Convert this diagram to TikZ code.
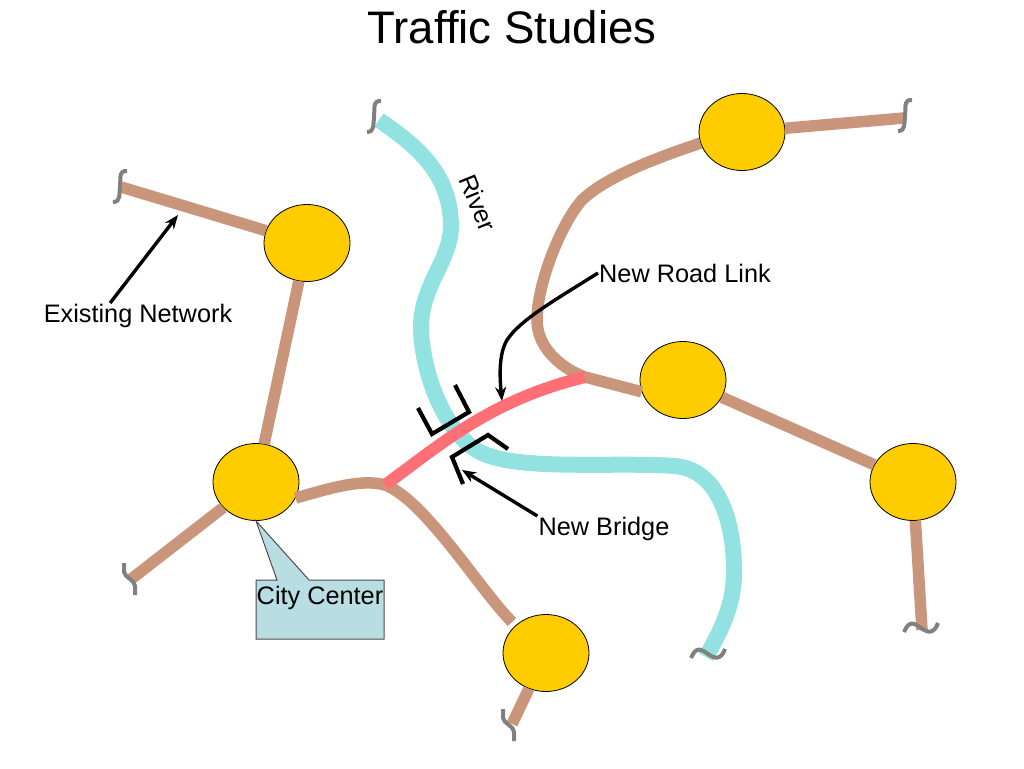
\documentclass[tikz,border=0pt]{standalone}
\usepackage{fontspec}
\setmainfont{Liberation Sans}
\usetikzlibrary{shapes.geometric,arrows.meta}
\definecolor{roadcol}{HTML}{C9967C}
\definecolor{rivercol}{HTML}{92E2E2}
\definecolor{linkcol}{HTML}{FF7076}
\definecolor{citycol}{HTML}{FFCC00}
\definecolor{notecol}{HTML}{B8DEE4}
\tikzset{
  city/.style={draw=black,line width=0.8pt,fill=citycol,ellipse,minimum width=86pt,minimum height=77pt,inner sep=0pt},
  road/.style={roadcol,line width=11.5pt},
  river/.style={rivercol,line width=16pt},
  newlink/.style={linkcol,line width=12pt},
  breakmark/.style={gray,line width=4pt},
  bracket/.style={black,line width=4.2pt,line join=miter},
  pointer/.style={black,line width=3.4pt,-{Stealth[length=14pt,width=11pt]}},
  label/.style={font=\fontsize{25.3}{28}\selectfont,inner sep=1pt}
}
% three kinds of road end
\newcommand{\breakS}[2]{%
  \draw[breakmark,shift={(#1,#2)}] (6,-16) .. controls (-3,-17) and (0,-6) .. (-1,0)
    .. controls (-2,7) and (0,15) .. (-8,15);}
\newcommand{\breakZ}[2]{%
  \draw[breakmark,shift={(#1,#2)}] (-6,-16) -- (-6,-7) .. controls (-5,-1) and (5,1) .. (5,7) -- (5,16);}
\newcommand{\breakT}[2]{%
  \draw[breakmark,shift={(#1,#2)}] (-17,5) .. controls (-12,-7) and (-7,-4) .. (0,1)
    .. controls (7,6) and (13,7) .. (17,-4);}
\begin{document}
\begin{tikzpicture}[x=1pt,y=-1pt]
  \useasboundingbox (0,0) rectangle (1024,768);
  % river
  \draw[river] (379,120) .. controls (420,148) and (450,175) .. (451,225)
    .. controls (451,262) and (420,285) .. (421,330)
    .. controls (423,380) and (450,445) .. (490,456)
    .. controls (530,470) and (620,462) .. (675,466)
    .. controls (722,470) and (735,530) .. (734,575)
    .. controls (733,610) and (718,635) .. (706,657);
  % towns
  \node[city] (cityA) at (307,243) {};
  \node[city] (cityB) at (256,482) {};
  \node[city] (cityC) at (742,132) {};
  \node[city] (cityD) at (683,380) {};
  \node[city] (cityE) at (913,482) {};
  \node[city] (cityF) at (546,653) {};
  \coordinate (endA) at (121,187);
  \coordinate (endB) at (130,580);
  \coordinate (endC) at (904,118);
  \coordinate (endE) at (922,630);
  \coordinate (endF) at (512,724);
  \coordinate (westjoin) at (385,485);
  \coordinate (eastjoin) at (585,377);
  % roads
  \draw[road] (endA) -- (cityA);
  \draw[road] (cityA) -- (cityB);
  \draw[road] (endB) -- (cityB);
  \draw[road] (cityC) -- (endC);
  \draw[road] (cityD) -- (cityE);
  \draw[road] (cityE) -- (endE);
  \draw[road] (cityF) -- (endF);
  \draw[road] (cityB.-22) .. controls (325,490) and (360,478) .. (westjoin)
    .. controls (425,500) and (480,590) .. (512,622);
  \draw[road] (cityC.195) .. controls (650,160) and (605,178) .. (582,200)
    .. controls (560,225) and (537,285) .. (537,320)
    .. controls (537,350) and (565,370) .. (eastjoin);
  \draw[road] (eastjoin) -- (cityD.196);
  \draw[newlink] (westjoin) .. controls (440,445) and (490,400) .. (eastjoin);
  % breaks
  \breakS{121}{187}
  \breakS{375}{117}
  \breakS{906}{116}
  \breakZ{130}{579}
  \breakZ{509}{725}
  \breakT{708}{653}
  \breakT{921}{627}
  % bridge
  \draw[bracket] (418,408) -- (432,434) -- (469,412) -- (455,385);
  \draw[bracket] (508,449) -- (488,435) -- (452,457) -- (463,484);
  % callout
  \coordinate (notetip) at (cityB.south);
  \draw[draw=black!70,line width=1pt,fill=notecol] (256,580) -- (277,580) -- (notetip) -- (309,580) -- (384,580)
    -- (384,639) -- (256,639) -- cycle;
  % text
  \node[font=\fontsize{45.6}{50}\selectfont,inner sep=0pt] (title) at (512,27) {Traffic Studies};
  \node[label] (noteText) at (320,598) {City Center};
  \node[label,rotate=-68] (riverText) at (478,203) {River};
  \node[label] (netText) at (138,316) {Existing Network};
  \node[label] (linkText) at (685,273) {New Road Link};
  \node[label] (bridgeText) at (604,529) {New Bridge};
  \coordinate (nettip) at (178,215);
  \coordinate (linktip) at (502,401);
  \coordinate (bridgetip) at (462,470);
  \draw[pointer] (netText.155) -- (nettip);
  \draw[pointer] (linkText.west) .. controls (555,300) and (520,320) .. (507,340)
    .. controls (498,355) and (500,380) .. (linktip);
  \draw[pointer] (bridgeText.north west) -- (bridgetip);
\end{tikzpicture}
\end{document}
